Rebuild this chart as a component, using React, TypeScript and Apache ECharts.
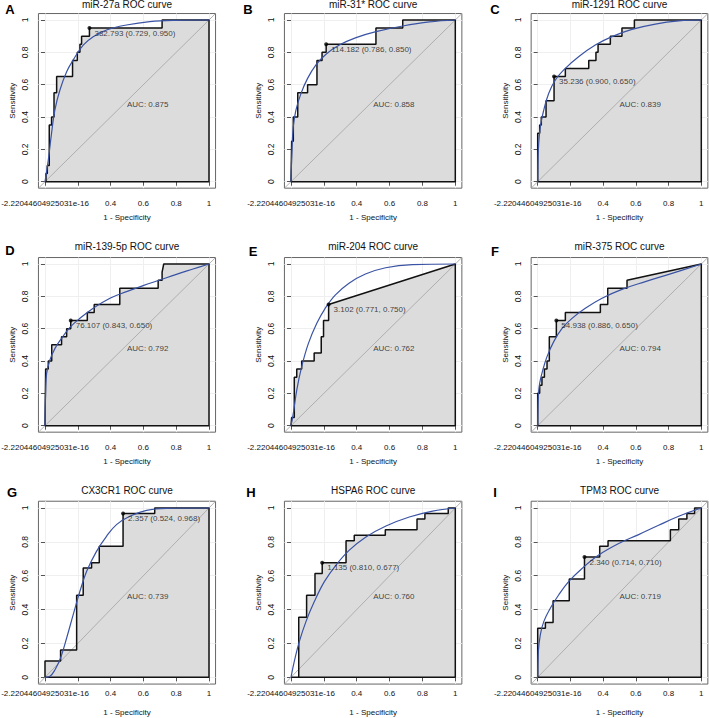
import React, { useEffect, useRef } from 'react';
import * as echarts from 'echarts';

type Pt = [number, number];

const panelLetters = ['A', 'B', 'C', 'D', 'E', 'F', 'G', 'H', 'I'];
const panelTitles = [
  'miR-27a ROC curve', 'miR-31* ROC curve', 'miR-1291 ROC curve',
  'miR-139-5p ROC curve', 'miR-204 ROC curve', 'miR-375 ROC curve',
  'CX3CR1 ROC curve', 'HSPA6 ROC curve', 'TPM3 ROC curve',
];
const aucValues = ['0.875', '0.858', '0.839', '0.792', '0.762', '0.794', '0.739', '0.760', '0.719'];
const thresholdLabels = [
  '382.793 (0.729, 0.950)', '114.182 (0.786, 0.850)', '35.236 (0.900, 0.650)',
  '76.107 (0.843, 0.650)', '3.102 (0.771, 0.750)', '54.938 (0.886, 0.650)',
  '2.357 (0.524, 0.968)', '1.135 (0.810, 0.677)', '2.340 (0.714, 0.710)',
];
const thresholdPoints: Pt[] = [
  [0.271, 0.95], [0.214, 0.85], [0.1, 0.65],
  [0.157, 0.65], [0.229, 0.75], [0.114, 0.65],
  [0.476, 0.968], [0.19, 0.677], [0.286, 0.71],
];

const xTickValues = [0, 0.2, 0.4, 0.6, 0.8, 1];
const xLabelValues = [0, 0.4, 0.6, 0.8, 1];
const xLabelTexts = ['-2.22044604925031e-16', '0.4', '0.6', '0.8', '1'];
const yTickValues = [0, 0.2, 0.4, 0.6, 0.8, 1];
const yLabelTexts = ['0', '0.2', '0.4', '0.6', '0.8', '1'];

// empirical ROC curves (1 - specificity, sensitivity)
const rocA: Pt[] = [[0, 0], [0.006, 0], [0.006, 0.05], [0.014, 0.05], [0.014, 0.1], [0.026, 0.1], [0.026, 0.35], [0.04, 0.35], [0.04, 0.4], [0.055, 0.4], [0.055, 0.55], [0.071, 0.55], [0.071, 0.65], [0.168, 0.65], [0.168, 0.75], [0.197, 0.75], [0.197, 0.8], [0.213, 0.8], [0.213, 0.85], [0.223, 0.85], [0.223, 0.9], [0.271, 0.9], [0.271, 0.95], [0.714, 0.95], [0.714, 1], [1, 1]];
const rocB: Pt[] = [[0, 0], [0.004, 0], [0.004, 0.25], [0.014, 0.25], [0.014, 0.4], [0.041, 0.4], [0.041, 0.55], [0.101, 0.55], [0.101, 0.6], [0.158, 0.6], [0.158, 0.75], [0.189, 0.75], [0.189, 0.8], [0.214, 0.8], [0.214, 0.85], [0.517, 0.85], [0.517, 0.95], [0.68, 0.95], [0.68, 1], [1, 1]];
const rocC: Pt[] = [[0, 0], [0, 0.3], [0.012, 0.3], [0.012, 0.35], [0.022, 0.35], [0.022, 0.4], [0.051, 0.4], [0.051, 0.5], [0.1, 0.5], [0.1, 0.65], [0.169, 0.65], [0.169, 0.7], [0.312, 0.7], [0.312, 0.75], [0.356, 0.75], [0.356, 0.8], [0.369, 0.8], [0.369, 0.85], [0.444, 0.85], [0.444, 0.9], [0.515, 0.9], [0.515, 0.95], [0.591, 0.95], [0.591, 1], [1, 1]];
const rocD: Pt[] = [[0, 0], [0.004, 0], [0.004, 0.35], [0.02, 0.35], [0.02, 0.4], [0.041, 0.4], [0.041, 0.5], [0.101, 0.5], [0.101, 0.55], [0.132, 0.55], [0.132, 0.6], [0.157, 0.6], [0.157, 0.65], [0.258, 0.65], [0.258, 0.7], [0.3, 0.7], [0.3, 0.75], [0.456, 0.75], [0.456, 0.85], [0.69, 0.85], [0.69, 0.9], [0.714, 0.9], [0.714, 0.95], [0.724, 1], [1, 1]];
const rocE: Pt[] = [[0, 0], [0.004, 0], [0.004, 0.05], [0.02, 0.05], [0.02, 0.3], [0.035, 0.3], [0.035, 0.35], [0.065, 0.35], [0.065, 0.4], [0.141, 0.4], [0.141, 0.45], [0.184, 0.45], [0.184, 0.55], [0.198, 0.55], [0.198, 0.65], [0.229, 0.65], [0.229, 0.75], [1, 1]];
const rocF: Pt[] = [[0, 0], [0, 0.2], [0.012, 0.2], [0.012, 0.25], [0.026, 0.25], [0.026, 0.3], [0.041, 0.3], [0.041, 0.35], [0.057, 0.35], [0.057, 0.4], [0.071, 0.4], [0.071, 0.55], [0.114, 0.55], [0.114, 0.65], [0.169, 0.65], [0.169, 0.7], [0.383, 0.7], [0.383, 0.75], [0.428, 0.75], [0.428, 0.85], [0.546, 0.85], [0.546, 0.9], [1, 1]];
const rocG: Pt[] = [[0, 0], [0, 0.097], [0.095, 0.097], [0.095, 0.161], [0.193, 0.161], [0.193, 0.484], [0.233, 0.484], [0.233, 0.645], [0.284, 0.645], [0.284, 0.677], [0.331, 0.677], [0.331, 0.774], [0.476, 0.774], [0.476, 0.968], [0.669, 0.968], [0.669, 1], [1, 1]];
const rocH: Pt[] = [[0, 0], [0.047, 0], [0.047, 0.355], [0.095, 0.355], [0.095, 0.484], [0.146, 0.484], [0.146, 0.613], [0.19, 0.613], [0.19, 0.677], [0.335, 0.677], [0.335, 0.806], [0.385, 0.806], [0.385, 0.839], [0.574, 0.839], [0.574, 0.871], [0.767, 0.871], [0.767, 0.935], [0.815, 0.935], [0.815, 0.968], [0.957, 0.968], [0.957, 1], [1, 1]];
const rocI: Pt[] = [[0, 0], [0, 0.29], [0.047, 0.29], [0.047, 0.323], [0.094, 0.323], [0.094, 0.452], [0.193, 0.452], [0.193, 0.581], [0.286, 0.581], [0.286, 0.71], [0.379, 0.71], [0.379, 0.774], [0.43, 0.774], [0.43, 0.806], [0.811, 0.806], [0.811, 0.871], [0.862, 0.871], [0.862, 0.935], [0.912, 0.935], [0.912, 0.968], [0.959, 0.968], [0.959, 1], [1, 1]];

// smoothed ROC curves
const smoothA: Pt[] = [[0, 0], [0.02, 0.134], [0.04, 0.3], [0.06, 0.443], [0.091, 0.567], [0.132, 0.68], [0.172, 0.753], [0.233, 0.845], [0.294, 0.897], [0.375, 0.938], [0.497, 0.969], [0.639, 0.99], [0.8, 0.998], [1, 1]];
const smoothB: Pt[] = [[0, 0], [0.006, 0.196], [0.014, 0.34], [0.03, 0.443], [0.061, 0.546], [0.101, 0.639], [0.152, 0.722], [0.213, 0.788], [0.294, 0.845], [0.396, 0.891], [0.517, 0.928], [0.68, 0.963], [0.842, 0.988], [1, 1]];
const smoothC: Pt[] = [[0, 0], [0.004, 0.196], [0.016, 0.34], [0.037, 0.443], [0.067, 0.546], [0.108, 0.629], [0.169, 0.701], [0.25, 0.773], [0.352, 0.845], [0.454, 0.897], [0.576, 0.942], [0.719, 0.975], [0.862, 0.994], [1, 1]];
const smoothD: Pt[] = [[0, 0], [0.004, 0.22], [0.01, 0.324], [0.03, 0.406], [0.061, 0.478], [0.101, 0.54], [0.152, 0.608], [0.213, 0.664], [0.294, 0.726], [0.396, 0.788], [0.497, 0.829], [0.598, 0.866], [0.7, 0.901], [0.801, 0.936], [0.903, 0.969], [1, 1]];
const smoothE: Pt[] = [[0, 0], [0.014, 0.076], [0.035, 0.22], [0.065, 0.365], [0.106, 0.509], [0.157, 0.633], [0.208, 0.726], [0.269, 0.808], [0.351, 0.88], [0.453, 0.938], [0.576, 0.977], [0.739, 0.996], [1, 1]];
const smoothF: Pt[] = [[0, 0], [0.004, 0.179], [0.012, 0.262], [0.031, 0.344], [0.057, 0.427], [0.098, 0.52], [0.149, 0.602], [0.21, 0.664], [0.291, 0.726], [0.393, 0.788], [0.515, 0.843], [0.658, 0.891], [0.821, 0.942], [1, 1]];
const smoothG: Pt[] = [[0, 0], [0.03, 0.006], [0.061, 0.045], [0.095, 0.114], [0.132, 0.232], [0.172, 0.37], [0.213, 0.508], [0.254, 0.626], [0.314, 0.744], [0.375, 0.833], [0.436, 0.902], [0.517, 0.951], [0.619, 0.986], [0.74, 0.998], [1, 1]];
const smoothH: Pt[] = [[0, 0], [0.02, 0.094], [0.051, 0.212], [0.091, 0.329], [0.142, 0.447], [0.203, 0.565], [0.274, 0.663], [0.355, 0.751], [0.456, 0.829], [0.578, 0.894], [0.72, 0.947], [0.862, 0.982], [1, 1]];
const smoothI: Pt[] = [[0, 0], [0.004, 0.153], [0.016, 0.251], [0.037, 0.329], [0.077, 0.408], [0.128, 0.486], [0.189, 0.565], [0.271, 0.643], [0.373, 0.722], [0.495, 0.79], [0.617, 0.843], [0.739, 0.898], [0.862, 0.951], [1, 1]];

const rocCurves = [rocA, rocB, rocC, rocD, rocE, rocF, rocG, rocH, rocI];
const smoothCurves = [smoothA, smoothB, smoothC, smoothD, smoothE, smoothF, smoothG, smoothH, smoothI];

// layout (pixels)
const colLeft = [45, 291, 537.7];
const colWidth = [164, 164.3, 163.6];
const rowTop = [20, 264, 508];
const rowHeight = [161.7, 161.7, 169.3];
const rowLabelMargin = [11, 11, 5];
const rowNameGap = [25, 25, 24];
const titleCenterY = [5, 247, 491];
const letterCenter: Pt[] = [[10, 11], [248, 11], [495, 11], [10, 252], [253, 253], [495, 253], [12, 494], [251, 494], [495, 494]];

const FONT = '"Liberation Sans", Arial, sans-serif';
const PAD = 0.04;
const TXT = '#111';

function buildOption() {
  const grids: any[] = [];
  const xAxes: any[] = [];
  const yAxes: any[] = [];
  const series: any[] = [];
  const titles: any[] = [];

  for (let i = 0; i < 9; i++) {
    const c = i % 3;
    const r = Math.floor(i / 3);
    const cw = colWidth[c];
    const rh = rowHeight[r];
    grids.push({
      left: colLeft[c] - PAD * cw,
      top: rowTop[r] - PAD * rh,
      width: cw * (1 + 2 * PAD),
      height: rh * (1 + 2 * PAD),
      show: true,
      borderColor: '#666',
      borderWidth: 1,
      backgroundColor: 'transparent',
      containLabel: false,
      outerBoundsMode: 'none',
    });
    xAxes.push({
      type: 'value',
      gridIndex: i,
      min: -PAD,
      max: 1 + PAD,
      name: '1 - Specificity',
      nameLocation: 'middle',
      nameGap: rowNameGap[r],
      nameTextStyle: { fontSize: 8, color: TXT, fontFamily: FONT },
      axisLine: { show: false },
      axisTick: { show: true, customValues: xTickValues, length: 4, lineStyle: { color: '#555', width: 1 } },
      axisLabel: {
        customValues: xLabelValues,
        fontSize: 8,
        color: TXT,
        fontFamily: FONT,
        margin: rowLabelMargin[r],
        formatter: (v: number) => {
          const k = xLabelValues.findIndex((u) => Math.abs(u - v) < 1e-9);
          return k >= 0 ? xLabelTexts[k] : '';
        },
      },
      splitLine: { show: true, lineStyle: { color: '#efefef', width: 1 } },
    });
    yAxes.push({
      type: 'value',
      gridIndex: i,
      min: -PAD,
      max: 1 + PAD,
      name: 'Sensitivity',
      nameLocation: 'middle',
      nameGap: 22,
      nameTextStyle: { fontSize: 8, color: TXT, fontFamily: FONT },
      axisLine: { show: false },
      axisTick: { show: true, customValues: yTickValues, length: 4, lineStyle: { color: '#555', width: 1 } },
      axisLabel: {
        customValues: yTickValues,
        rotate: 90,
        fontSize: 8.5,
        color: TXT,
        fontFamily: FONT,
        margin: 9,
        formatter: (v: number) => {
          const k = yTickValues.findIndex((u) => Math.abs(u - v) < 1e-9);
          return k >= 0 ? yLabelTexts[k] : '';
        },
      },
      splitLine: { show: true, lineStyle: { color: '#efefef', width: 1 } },
    });

    const roc = rocCurves[i];
    series.push({
      type: 'line', xAxisIndex: i, yAxisIndex: i, data: roc,
      showSymbol: false, silent: true, z: 1,
      lineStyle: { width: 0, opacity: 0 },
      areaStyle: { color: '#dcdcdc', opacity: 1, origin: 'auto' },
    });
    series.push({
      type: 'line', xAxisIndex: i, yAxisIndex: i,
      data: [[-PAD, -PAD], [1 + PAD, 1 + PAD]],
      showSymbol: false, silent: true, z: 2,
      lineStyle: { color: '#a9a9a9', width: 0.9 },
    });
    series.push({
      type: 'line', xAxisIndex: i, yAxisIndex: i,
      data: [...roc, [1, 0], [0, 0]],
      showSymbol: false, silent: true, z: 3,
      lineStyle: { color: '#111', width: 1.5 },
    });
    series.push({
      type: 'line', xAxisIndex: i, yAxisIndex: i, data: smoothCurves[i],
      smooth: 0.4, showSymbol: false, silent: true, z: 4,
      lineStyle: { color: '#3a53a4', width: 1.2 },
    });
    series.push({
      type: 'scatter', xAxisIndex: i, yAxisIndex: i, data: [thresholdPoints[i]],
      symbolSize: 4, silent: true, z: 5,
      itemStyle: { color: '#000' },
      label: {
        show: true, position: 'right', distance: 3, offset: [0, 5],
        formatter: thresholdLabels[i], fontSize: 8, color: TXT, fontFamily: FONT,
      },
    });
    series.push({
      type: 'scatter', xAxisIndex: i, yAxisIndex: i, data: [[0.5, 0.48]],
      symbolSize: 0, silent: true, z: 5,
      label: {
        show: true, position: 'right', distance: 0,
        formatter: 'AUC: ' + aucValues[i], fontSize: 8, color: TXT, fontFamily: FONT,
      },
    });

    titles.push({
      text: panelTitles[i],
      left: colLeft[c] + cw / 2,
      top: titleCenterY[r] - 6,
      textAlign: 'center',
      padding: 0,
      textStyle: { fontSize: 10, fontWeight: 'normal', color: TXT, fontFamily: FONT },
    });
    titles.push({
      text: panelLetters[i],
      left: letterCenter[i][0],
      top: letterCenter[i][1] - 8,
      textAlign: 'center',
      padding: 0,
      textStyle: { fontSize: 13, fontWeight: 'bold', color: '#000', fontFamily: FONT },
    });
  }

  return {
    animation: false,
    backgroundColor: '#ffffff',
    title: titles,
    grid: grids,
    xAxis: xAxes,
    yAxis: yAxes,
    series,
  };
}

export default function App() {
  const ref = useRef<HTMLDivElement>(null);
  useEffect(() => {
    if (!ref.current) return;
    const chart = echarts.init(ref.current, undefined, { renderer: 'svg' });
    chart.setOption(buildOption() as any);
    return () => chart.dispose();
  }, []);
  return (
    <div
      ref={ref}
      style={{ position: 'fixed', left: 0, top: 0, width: 709, height: 718, background: '#fff' }}
    />
  );
}
